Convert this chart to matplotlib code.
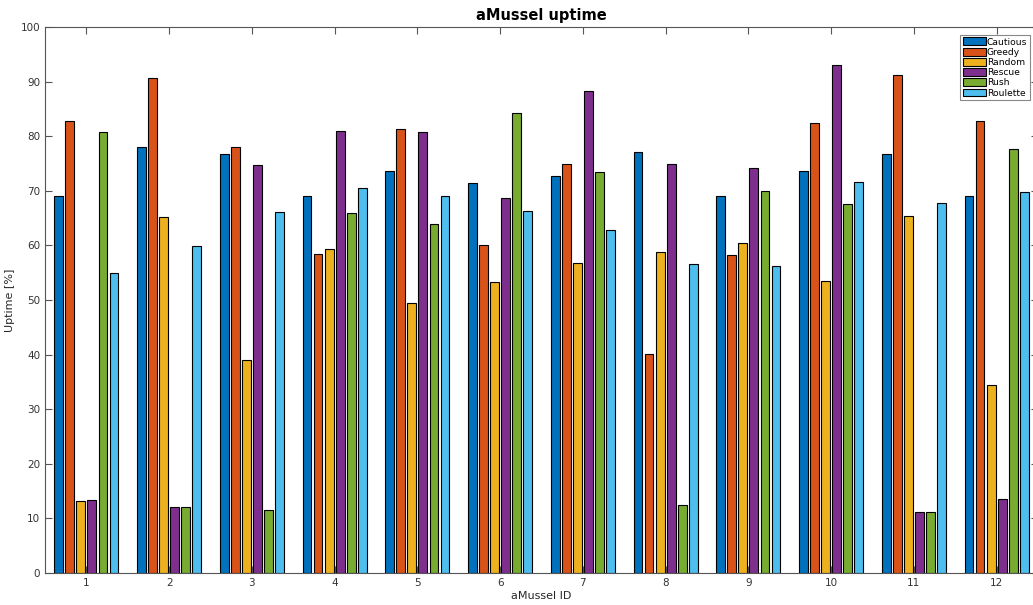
import matplotlib
matplotlib.use('Agg')
import matplotlib.pyplot as plt
import numpy as np

# aMussel IDs and uptime [%] per strategy
ids = np.arange(1, 13)
labels = ['Cautious', 'Greedy', 'Random', 'Rescue', 'Rush', 'Roulette']
cautious = [69.0, 78.0, 76.8, 69.0, 73.6, 71.4, 72.7, 77.1, 69.0, 73.7, 76.7, 69.0]
greedy   = [82.8, 90.7, 78.1, 58.4, 81.3, 60.1, 75.0, 40.1, 58.2, 82.5, 91.3, 82.8]
random_  = [13.1, 65.2, 39.0, 59.3, 49.5, 53.3, 56.8, 58.8, 60.4, 53.5, 65.3, 34.4]
rescue   = [13.3, 12.1, 74.8, 81.0, 80.8, 68.7, 88.2, 75.0, 74.2, 93.1, 11.1, 13.5]
rush     = [80.7, 12.1, 11.6, 65.9, 64.0, 84.2, 73.4, 12.5, 70.0, 67.6, 11.1, 77.7]
roulette = [54.9, 59.9, 66.1, 70.5, 69.0, 66.3, 62.9, 56.6, 56.2, 71.7, 67.7, 69.8]
series = [cautious, greedy, random_, rescue, rush, roulette]
colors = ['#0072BD', '#D95319', '#EDB120', '#7E2F8E', '#77AC30', '#4DBEEE']

plt.rcParams['font.family'] = 'DejaVu Sans'
fig = plt.figure(figsize=(10.33, 6.05), dpi=100)
ax = fig.add_axes([45/1033, 32/605, 993/1033, 546/605])

n = len(series)
step = 0.8/n
for k, (vals, c, lab) in enumerate(zip(series, colors, labels)):
    off = (k - (n-1)/2.0)*step
    ax.bar(ids + off, vals, width=step*0.8, color=c, edgecolor='black',
           linewidth=0.8, label=lab)

ax.set_xlim(0.5, 12.5)
ax.set_ylim(0, 100)
ax.set_xticks(ids)
ax.set_yticks(np.arange(0, 101, 10))
ax.tick_params(direction='in', top=True, right=True, length=5,
               color='#555555', labelcolor='#333333', labelsize=7.5)
for s in ax.spines.values():
    s.set_color('#555555')
    s.set_linewidth(0.8)

ax.set_title('aMussel uptime', fontsize=10.5, fontweight='bold', color='black', pad=5)
ax.set_xlabel('aMussel ID', fontsize=8, color='#262626', labelpad=2)
ax.set_ylabel('Uptime [%]', fontsize=8, color='#262626', labelpad=4)

leg = ax.legend(loc='upper right', bbox_to_anchor=(0.9915, 0.985), fontsize=6.6,
                fancybox=False, framealpha=1, edgecolor='#888888',
                handlelength=2.5, handleheight=0.95, handletextpad=0.15,
                labelspacing=0.12, borderpad=0.25, borderaxespad=0)
leg.get_frame().set_linewidth(0.8)

fig.savefig('out.png', dpi=100)
